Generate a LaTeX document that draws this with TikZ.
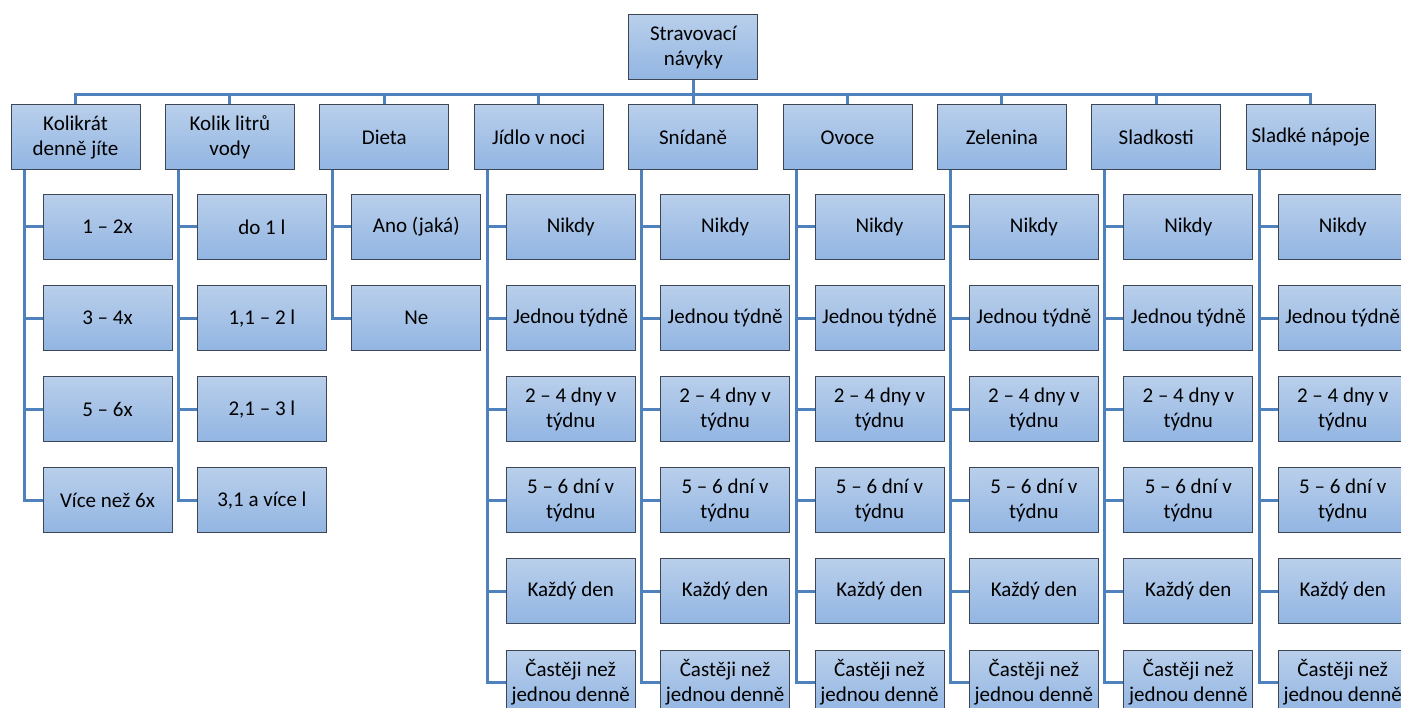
\documentclass[tikz,border=0pt]{standalone}
\usepackage{fontspec}
\setmainfont{Carlito}
\definecolor{connc}{RGB}{79,129,189}
\definecolor{boxtop}{RGB}{185,207,235}
\definecolor{boxbot}{RGB}{146,181,226}
\definecolor{boxline}{RGB}{60,70,85}
\begin{document}
\begin{tikzpicture}[x=1pt,y=-1pt,
  box/.style={draw=boxline, line width=1pt, top color=boxtop, bottom color=boxbot,
    minimum width=129pt, minimum height=65pt, inner sep=0pt, anchor=north west,
    align=center, font=\fontsize{21}{25}\selectfont, text=black},
  link/.style={draw=connc, line width=3pt}]
\useasboundingbox (0,0) rectangle (1401,708);
\clip (0,0) rectangle (1401,708);
\node[box] (t) at (628.3,14.3) {Stravovací\\návyky};
\foreach \i/\lab in {1/{Kolikrát\\denně jíte},2/{Kolik litrů\\vody},3/{Dieta},4/{Jídlo v noci},5/{Snídaně},6/{Ovoce},7/{Zelenina},8/{Sladkosti},9/{Sladké nápoje}}{
  \node[box] (c\i) at ({10.5+(\i-1)*154.4},104.3) {\lab};
  \draw[link] (t.south) -- ++(0,14) -| (c\i.north);
}
\foreach \j/\lab in {1/{1 – 2x},2/{3 – 4x},3/{5 – 6x},4/{Více než 6x}}{
  \node[box] (c1-\j) at ({10.5+32},{194+(\j-1)*91.1}) {\lab};
  \draw[link] ([xshift=13.5pt]c1.south west) |- (c1-\j.west);
}
\foreach \j/\lab in {1/{do 1 l},2/{1,1 – 2 l},3/{2,1 – 3 l},4/{3,1 a více l}}{
  \node[box] (c2-\j) at ({10.5+154.4+32},{194+(\j-1)*91.1}) {\lab};
  \draw[link] ([xshift=13.5pt]c2.south west) |- (c2-\j.west);
}
\foreach \j/\lab in {1/{Ano (jaká)},2/{Ne}}{
  \node[box] (c3-\j) at ({10.5+2*154.4+32},{194+(\j-1)*91.1}) {\lab};
  \draw[link] ([xshift=13.5pt]c3.south west) |- (c3-\j.west);
}
\foreach \i in {4,...,9}{
  \foreach \j/\lab in {1/{Nikdy},2/{Jednou týdně},3/{2 – 4 dny v\\týdnu},4/{5 – 6 dní v\\týdnu},5/{Každý den},6/{Častěji než\\jednou denně}}{
    \node[box] (c\i-\j) at ({10.5+(\i-1)*154.4+32},{194+(\j-1)*91.1}) {\lab};
    \draw[link] ([xshift=13.5pt]c\i.south west) |- (c\i-\j.west);
  }
}
\end{tikzpicture}
\end{document}
